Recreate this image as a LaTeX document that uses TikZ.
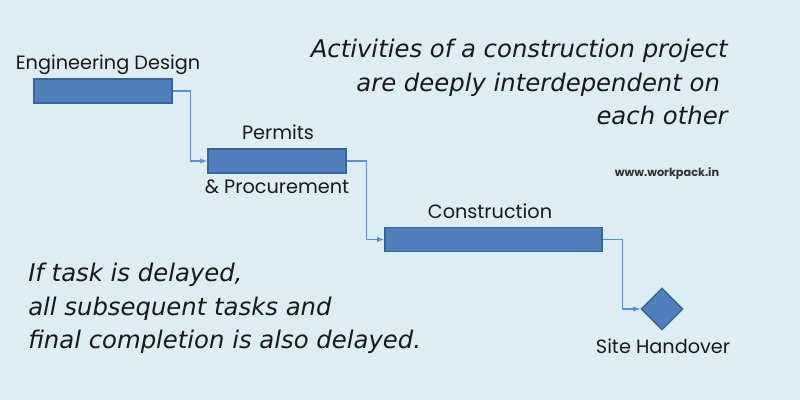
\documentclass[tikz,border=0pt]{standalone}
\usepackage{fontspec}
\usepackage{tikz}
\usetikzlibrary{shapes.geometric,arrows.meta,positioning,calc}
\newfontfamily\labelfont{Poppins}
\newfontfamily\notefont{DejaVu Sans}
\definecolor{bgblue}{HTML}{DCEDF3}
\definecolor{barfill}{HTML}{4F7FBD}
\definecolor{bardraw}{HTML}{3B6494}
\definecolor{linkblue}{HTML}{5A8FD6}
\tikzset{
    taskbar/.style={draw=bardraw, fill=barfill, line width=1pt, minimum height=0.6cm, inner sep=0pt},
    milestone/.style={diamond, draw=bardraw, fill=barfill, line width=1pt, minimum width=1.05cm, minimum height=1.05cm, inner sep=0pt},
    link/.style={draw=linkblue, line width=1pt, -{Latex[length=5pt,width=4pt]}},
    tasklabel/.style={inner sep=0pt, anchor=base, font=\labelfont\fontsize{13.7}{15}\selectfont, text=black!90},
    note/.style={inner sep=0pt, font=\notefont\itshape\fontsize{17.3}{23.7}\selectfont, text=black!90}
}

\begin{document}
\begin{tikzpicture}[x=0.025cm, y=-0.025cm]
    % Background
    \fill[bgblue] (0,0) rectangle (800,400);
    \useasboundingbox (0,0) rectangle (800,400);
    % Task bars
    \node[taskbar, minimum width=3.45cm] (design) at (103,91) {};
    \node[taskbar, minimum width=3.45cm] (permits) at (277,161) {};
    \node[taskbar, minimum width=5.425cm] (build) at (493.5,239.5) {};
    \node[milestone] (handover) at (662,309) {};
    % Task labels
    \node[tasklabel] (designlbl) at (108,70) {Engineering Design};
    \node[tasklabel] (permitslbl) at (278,140) {Permits};
    \node[tasklabel] (procurelbl) at (277,193) {\& Procurement};
    \node[tasklabel] (buildlbl) at (490,218) {Construction};
    \node[tasklabel] (handoverlbl) at (663,353) {Site Handover};
    % Dependencies
    \draw[link] (design.east) -- ++(18,0) |- (permits.west);
    \draw[link] (permits.east) -- ++(20,0) |- (build.west);
    \draw[link] (build.east) -- ++(20,0) |- (handover.west);
    % Notes
    \node[note, anchor=north east, align=right] (topnote) at (728,39)
        {Activities of a construction project\\are deeply interdependent on\hphantom{ }\\each other};
    \node[note, anchor=north west, align=left] (delaynote) at (28,263)
        {If task is delayed,\\all subsequent tasks and\\final completion is also delayed.};
    \node[inner sep=0pt, anchor=base, font=\labelfont\bfseries\fontsize{8}{10}\selectfont, text=black!80] (web) at (667,176) {www.workpack.in};
\end{tikzpicture}
\end{document}
